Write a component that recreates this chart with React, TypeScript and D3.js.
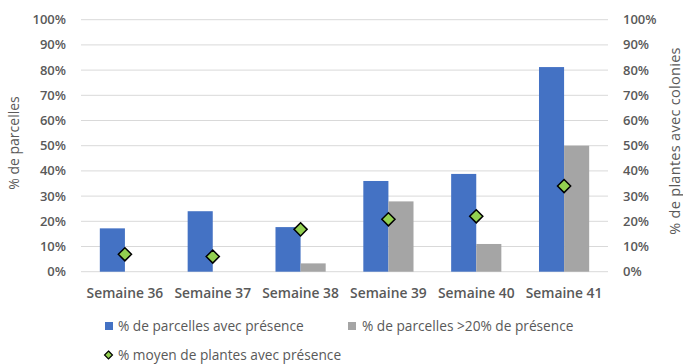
import React from "react";
import * as d3 from "d3";

const categories = ["Semaine 36", "Semaine 37", "Semaine 38", "Semaine 39", "Semaine 40", "Semaine 41"];
const parcellesPresence = [17.2, 24.0, 17.7, 36.0, 38.8, 81.2];
const parcelles20 = [0, 0, 3.3, 27.9, 11.0, 50.0];
const moyenPlantes = [6.9, 6.0, 16.8, 20.8, 22.0, 34.0];
const yTicks = [0, 10, 20, 30, 40, 50, 60, 70, 80, 90, 100];

const W = 683, H = 364;
const left = 81, right = 608, top = 19.7, bottom = 271.7;
const BLUE = "#4472C4", GRAY = "#A5A5A5", GREEN = "#92D050";
const TXT = "#595959";
const FONT = "'Open Sans', 'Liberation Sans', sans-serif";

export default function App() {
  const x = d3.scaleBand<string>().domain(categories).range([left, right]).paddingInner(0).paddingOuter(0);
  const y = d3.scaleLinear().domain([0, 100]).range([bottom, top]);
  const y2 = d3.scaleLinear().domain([0, 100]).range([bottom, top]);
  const bw = x.bandwidth() / 3.5;
  const fmt = (v: number) => `${v}%`;
  const diamond = d3.symbol().type(d3.symbolDiamond2).size(110)();
  const diamondSmall = d3.symbol().type(d3.symbolDiamond2).size(40)();

  return (
    <svg width={W} height={H} style={{ position: "absolute", left: 0, top: 0, background: "#fff" }} fontFamily={FONT}>
      {yTicks.map((t) => (
        <line key={t} x1={left} x2={right} y1={y(t)} y2={y(t)} stroke="#D9D9D9" strokeWidth={1} />
      ))}
      {yTicks.map((t) => (
        <text key={"l" + t} x={66} y={y(t)} dy="0.35em" textAnchor="end" fontSize={13} fontWeight={600} fill={TXT}>{fmt(t)}</text>
      ))}
      {yTicks.map((t) => (
        <text key={"r" + t} x={623} y={y2(t)} dy="0.35em" textAnchor="start" fontSize={13} fontWeight={600} fill={TXT}>{fmt(t)}</text>
      ))}
      {categories.map((c, i) => {
        const cx = (x(c) as number) + x.bandwidth() / 2;
        return (
          <g key={c}>
            <rect x={cx - bw} y={y(parcellesPresence[i])} width={bw} height={bottom - y(parcellesPresence[i])} fill={BLUE} />
            {parcelles20[i] > 0 && (
              <rect x={cx} y={y(parcelles20[i])} width={bw} height={bottom - y(parcelles20[i])} fill={GRAY} />
            )}
          </g>
        );
      })}
      {categories.map((c, i) => {
        const cx = (x(c) as number) + x.bandwidth() / 2;
        return (
          <path key={"d" + c} d={diamond as string} transform={`translate(${cx},${y2(moyenPlantes[i])})`} fill={GREEN} stroke="#000" strokeWidth={1.5} />
        );
      })}
      {categories.map((c) => (
        <text key={"x" + c} x={(x(c) as number) + x.bandwidth() / 2} y={293} dy="0.35em" textAnchor="middle" fontSize={13.8} fontWeight={600} fill={TXT}>{c}</text>
      ))}
      <text transform={`translate(14,${143}) rotate(-90)`} textAnchor="middle" dy="0.35em" fontSize={14} fill={TXT}>% de parcelles</text>
      <text transform={`translate(675,${141}) rotate(-90)`} textAnchor="middle" dy="0.35em" fontSize={14.5} letterSpacing={0.3} fill={TXT}>% de plantes avec colonies</text>
      <rect x={105} y={322} width={8} height={8} fill={BLUE} />
      <text x={118} y={326.5} dy="0.35em" fontSize={13.7} fill={TXT}>% de parcelles avec présence</text>
      <rect x={348} y={322} width={8} height={8} fill={GRAY} />
      <text x={362} y={326.5} dy="0.35em" fontSize={13.7} fill={TXT}>% de parcelles &gt;20% de présence</text>
      <path d={diamondSmall as string} transform="translate(108.5,355)" fill={GREEN} stroke="#000" strokeWidth={1.2} />
      <text x={118} y={355} dy="0.35em" fontSize={13.7} fill={TXT}>% moyen de plantes avec présence</text>
    </svg>
  );
}
